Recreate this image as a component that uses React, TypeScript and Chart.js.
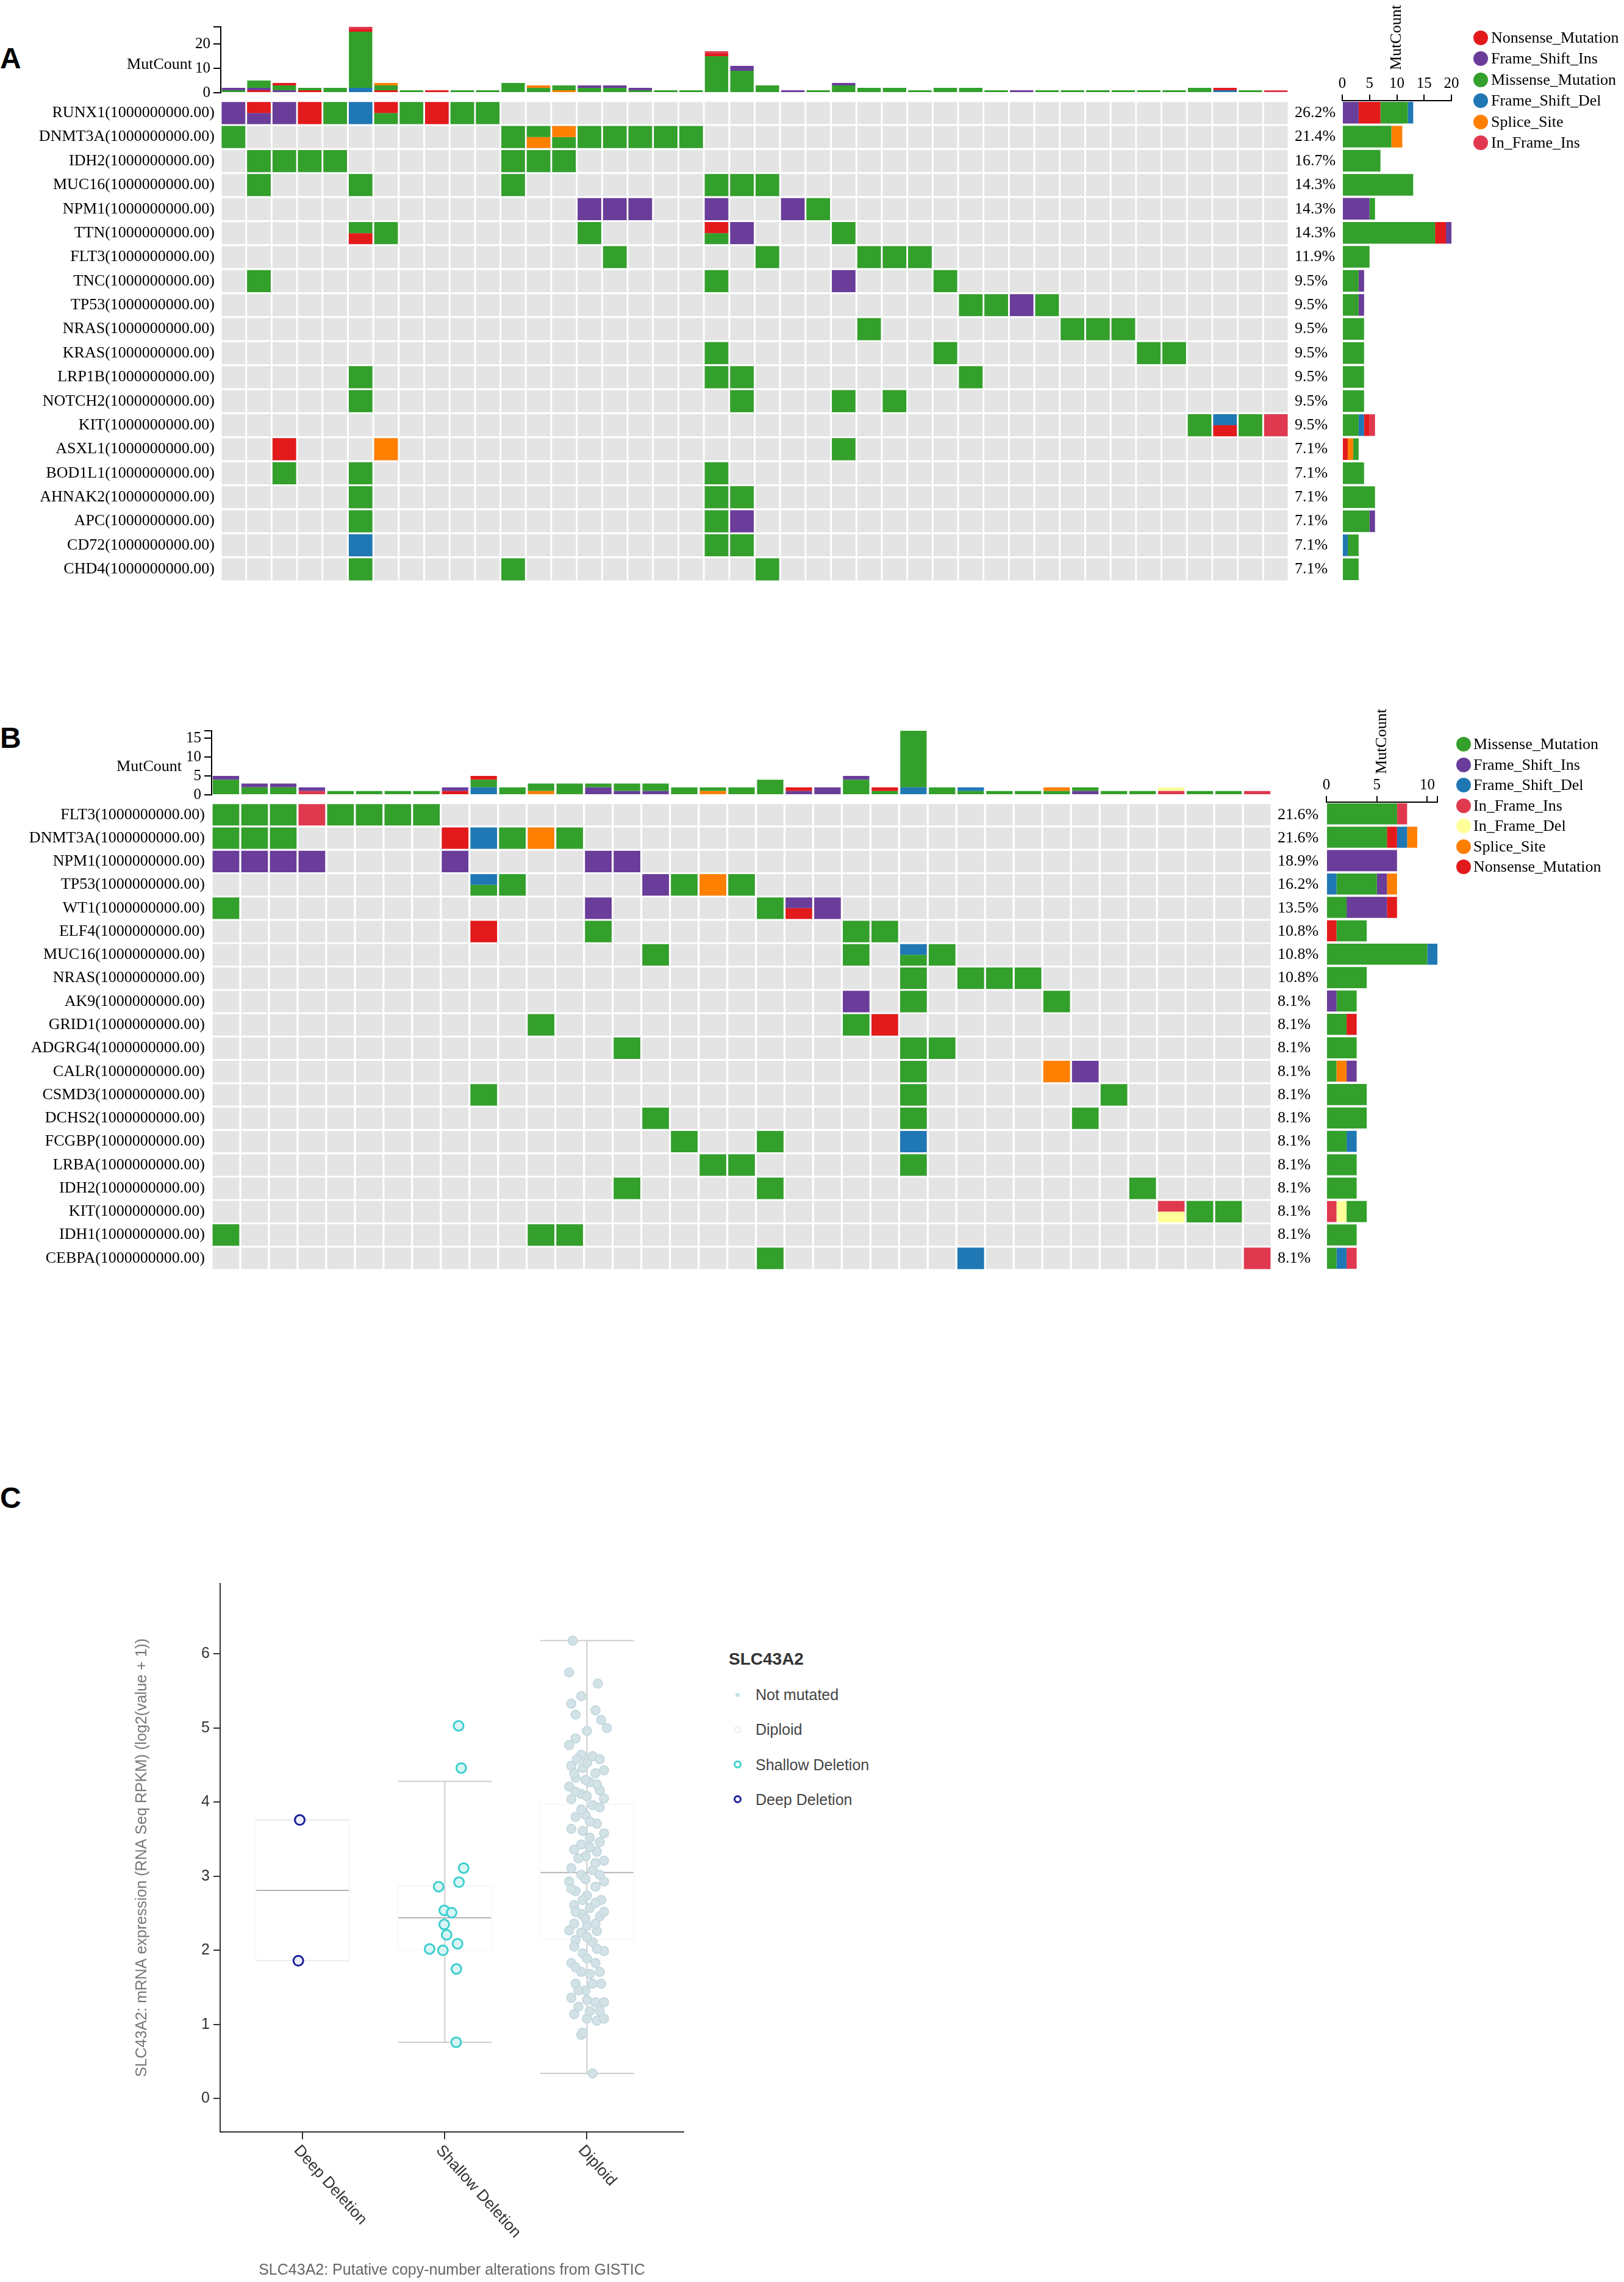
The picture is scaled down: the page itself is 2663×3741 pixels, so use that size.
import React, { useEffect, useRef } from 'react';
import { Chart, registerables } from 'chart.js';

Chart.register(...registerables);

const SERIF = '"Liberation Serif", "Times New Roman", serif';
const SANS = '"Liberation Sans", Arial, Helvetica, sans-serif';

// ---------- mutation classes ----------
const MUT_CODES = ['M', 'P', 'D', 'N', 'S', 'I', 'L'];
const MUT_NAMES = ['Missense_Mutation', 'Frame_Shift_Ins', 'Frame_Shift_Del', 'Nonsense_Mutation', 'Splice_Site', 'In_Frame_Ins', 'In_Frame_Del'];
const MUT_COLORS = ['#33a02c', '#6a3d9a', '#1f78b4', '#e31a1c', '#ff7f00', '#e0394f', '#ffff99'];
const GREY = '#e4e4e4';
const GENE_SUFFIX = '(1000000000.00)';

// ---------- panel A ----------
const A_SAMPLES = Array.from({ length: 42 }, (_, i) => 'A' + (i + 1));
const A_GENES = ['RUNX1', 'DNMT3A', 'IDH2', 'MUC16', 'NPM1', 'TTN', 'FLT3', 'TNC', 'TP53', 'NRAS', 'KRAS', 'LRP1B', 'NOTCH2', 'KIT', 'ASXL1', 'BOD1L1', 'AHNAK2', 'APC', 'CD72', 'CHD4'];
const A_FREQ = ['26.2%', '21.4%', '16.7%', '14.3%', '14.3%', '14.3%', '11.9%', '9.5%', '9.5%', '9.5%', '9.5%', '9.5%', '9.5%', '9.5%', '7.1%', '7.1%', '7.1%', '7.1%', '7.1%', '7.1%'];
// "col + code(s)": one code = whole cell, two codes = top half / bottom half
const A_CELLS = [
  '0P 1NP 2P 3N 4M 5D 6NM 7M 8N 9M 10M',
  '0M 11M 12MS 13SM 14M 15M 16M 17M 18M',
  '1M 2M 3M 4M 11M 12M 13M',
  '1M 5M 11M 19M 20M 21M',
  '14P 15P 16P 19P 22P 23M',
  '5MN 6M 14M 19NM 20P 24M',
  '15M 21M 25M 26M 27M',
  '1M 19M 24P 28M',
  '29M 30M 31P 32M',
  '25M 33M 34M 35M',
  '19M 28M 36M 37M',
  '5M 19M 20M 29M',
  '5M 20M 24M 26M',
  '38M 39DN 40M 41I',
  '2N 6S 24M',
  '2M 5M 19M',
  '5M 19M 20M',
  '5M 19M 20P',
  '5D 19M 20M',
  '5M 11M 21M',
];
// per-sample mutation counts (bottom -> top)
const A_SAMPLE_MUTS = [
  'M1 P1', 'N1 P1 M3', 'P1 M2 N1', 'N1 M1', 'M2', 'D2 M23 N1 I1', 'N1 M2 S1', 'M1', 'N1', 'M1',
  'M1', 'M4', 'M2 S1', 'S1 M2', 'M2 P1', 'M2 P1', 'M1 P1', 'M1', 'M1', 'M15 N1 I1',
  'M9 P2', 'M3', 'P1', 'M1', 'M3 P1', 'M2', 'M2', 'M1', 'M2', 'M2',
  'M1', 'P1', 'M1', 'M1', 'M1', 'M1', 'M1', 'M1', 'M2', 'D1 N1',
  'M1', 'I1',
];
// per-gene mutation counts (left -> right)
const A_GENE_MUTS = [
  'P3 N4 M5 D1', 'M9 S2', 'M7', 'M13', 'P5 M1', 'M17 N2 P1', 'M5', 'M3 P1', 'M3 P1', 'M4',
  'M4', 'M4', 'M4', 'M3 D1 N1 I1', 'N1 S1 M1', 'M4', 'M6', 'M5 P1', 'D1 M2', 'M3',
];
const A_TOP_TICKS = [0, 10, 20, 27];
const A_RIGHT_TICKS = [0, 5, 10, 15, 20];
const A_LEGEND = ['N', 'P', 'M', 'D', 'S', 'I'];

// ---------- panel B ----------
const B_SAMPLES = Array.from({ length: 37 }, (_, i) => 'B' + (i + 1));
const B_GENES = ['FLT3', 'DNMT3A', 'NPM1', 'TP53', 'WT1', 'ELF4', 'MUC16', 'NRAS', 'AK9', 'GRID1', 'ADGRG4', 'CALR', 'CSMD3', 'DCHS2', 'FCGBP', 'LRBA', 'IDH2', 'KIT', 'IDH1', 'CEBPA'];
const B_FREQ = ['21.6%', '21.6%', '18.9%', '16.2%', '13.5%', '10.8%', '10.8%', '10.8%', '8.1%', '8.1%', '8.1%', '8.1%', '8.1%', '8.1%', '8.1%', '8.1%', '8.1%', '8.1%', '8.1%', '8.1%'];
const B_CELLS = [
  '0M 1M 2M 3I 4M 5M 6M 7M',
  '0M 1M 2M 8N 9D 10M 11S 12M',
  '0P 1P 2P 3P 8P 13P 14P',
  '9DM 10M 15P 16M 17S 18M',
  '0M 13P 19M 20PN 21P',
  '9N 13M 22M 23M',
  '15M 22M 24DM 25M',
  '24M 26M 27M 28M',
  '22P 24M 29M',
  '11M 22M 23N',
  '14M 24M 25M',
  '24M 29S 30P',
  '9M 24M 31M',
  '15M 24M 30M',
  '16M 19M 24D',
  '17M 18M 24M',
  '14M 19M 32M',
  '33IL 34M 35M',
  '0M 11M 12M',
  '19M 26D 36I',
];
const B_SAMPLE_MUTS = [
  'M4 P1', 'M2 P1', 'M2 P1', 'I1 P1', 'M1', 'M1', 'M1', 'M1', 'N1 P1', 'D2 M2 N1',
  'M2', 'S1 M2', 'M3', 'P2 M1', 'P1 M2', 'P1 M2', 'M2', 'S1 M1', 'M2', 'M4',
  'P1 N1', 'P2', 'M4 P1', 'M1 N1', 'D2 M15', 'M2', 'M1 D1', 'M1', 'M1', 'M1 S1',
  'P1 M1', 'M1', 'M1', 'I1 L1', 'M1', 'M1', 'I1',
];
const B_GENE_MUTS = [
  'M7 I1', 'M6 N1 D1 S1', 'P7', 'D1 M4 P1 S1', 'M2 P4 N1', 'N1 M3', 'M10 D1', 'M4', 'P1 M2', 'M2 N1',
  'M3', 'M1 S1 P1', 'M4', 'M4', 'M2 D1', 'M3', 'M3', 'I1 L1 M2', 'M3', 'M1 D1 I1',
];
const B_TOP_TICKS = [0, 5, 10, 15, 17];
const B_RIGHT_TICKS = [0, 5, 10, 11];
const B_LEGEND = ['M', 'P', 'D', 'I', 'L', 'S', 'N'];

// ---------- panel C ----------
const C_GROUPS = ['Deep Deletion', 'Shallow Deletion', 'Diploid'];
const C_DEEP = [[-0.02, 3.76], [-0.03, 1.86]];
const C_SHALLOW = [
  [1.097, 5.03], [1.116, 4.46], [1.133, 3.11], [1.1, 2.92], [0.957, 2.86], [0.996, 2.54], [1.048, 2.51],
  [0.996, 2.35], [1.013, 2.21], [1.09, 2.09], [0.893, 2.02], [0.987, 2.0], [1.082, 1.75], [1.08, 0.76],
];
const C_DIPLOID = [
  [1.9, 6.18], [1.874, 5.75], [2.077, 5.6], [1.96, 5.43], [1.89, 5.33], [1.92, 5.18], [2.06, 5.24], [2.1, 5.11],
  [2.14, 5.0], [2.0, 4.96], [1.92, 4.86], [1.875, 4.77], [1.96, 4.64], [2.04, 4.62], [1.89, 4.49], [1.97, 4.46],
  [2.06, 4.39], [2.12, 4.43], [1.92, 4.33], [1.875, 4.21], [2.02, 4.27], [2.09, 4.16], [1.96, 4.11], [1.89, 4.04],
  [2.12, 4.05], [2.04, 3.96], [1.99, 3.83], [1.92, 3.8], [2.07, 3.71], [2.12, 3.58], [2.02, 3.52], [1.96, 3.43],
  [1.91, 3.36], [2.07, 3.33], [1.99, 3.27], [2.12, 3.21], [1.89, 3.11], [2.04, 3.08], [1.96, 3.02], [1.875, 2.93],
  [2.12, 2.93], [2.06, 2.86], [1.92, 2.8], [2.0, 2.74], [2.1, 2.68], [1.91, 2.61], [2.02, 2.57], [1.96, 2.49],
  [2.09, 2.46], [2.0, 2.33], [1.875, 2.27], [2.07, 2.26], [1.92, 2.14], [2.04, 2.11], [2.12, 1.99], [1.97, 1.96],
  [1.89, 1.83], [2.06, 1.83], [1.96, 1.71], [2.02, 1.68], [1.92, 1.55], [2.1, 1.55], [1.99, 1.46], [1.89, 1.36],
  [2.06, 1.3], [1.94, 1.24], [2.09, 1.18], [2.0, 1.08], [2.07, 1.05], [1.96, 0.86], [2.04, 0.34],
  [1.93, 4.58], [2.0, 4.53], [2.09, 4.58], [1.91, 4.39], [1.99, 4.3], [2.07, 4.24], [1.92, 4.14], [2.0, 4.08],
  [2.09, 3.93], [1.96, 3.9], [2.02, 3.74], [1.89, 3.64], [1.97, 3.61], [2.09, 3.46], [2.02, 3.39], [1.94, 3.24],
  [2.06, 3.18], [1.99, 2.96], [2.09, 3.02], [1.89, 2.83], [1.97, 2.68], [2.06, 2.64], [1.92, 2.52], [2.12, 2.52],
  [1.99, 2.43], [1.91, 2.36], [2.06, 2.36], [1.96, 2.24], [2.0, 2.18], [1.91, 2.05], [2.07, 2.02], [2.0, 1.89],
  [1.92, 1.77], [2.09, 1.71], [2.04, 1.55], [1.94, 1.46], [2.0, 1.33], [2.12, 1.3], [1.91, 1.14], [2.02, 1.18],
  [2.12, 1.08], [1.97, 0.89],
];
// min, q1, median, q3, max
const C_BOX = [
  [1.86, 1.86, 2.81, 3.76, 3.76],
  [0.76, 2.0, 2.44, 2.87, 4.28],
  [0.34, 2.15, 3.05, 3.97, 6.18],
];
const C_Y_TICKS = [0, 1, 2, 3, 4, 5, 6];
const C_YTITLE = 'SLC43A2: mRNA expression (RNA Seq RPKM) (log2(value + 1))';
const C_XTITLE = 'SLC43A2: Putative copy-number alterations from GISTIC';

// ---------- helpers ----------
const colorOf = (c: string) => MUT_COLORS[MUT_CODES.indexOf(c)];
const nameOf = (c: string) => MUT_NAMES[MUT_CODES.indexOf(c)];

type Seg = { t: string; v: number };
const parseSegs = (s: string): Seg[] =>
  s.trim().split(/\s+/).map((tok) => ({ t: tok[0], v: Number(tok.slice(1)) }));

function stackedSets(list: string[], barPct: number) {
  const segs = list.map(parseSegs);
  const n = Math.max(...segs.map((s) => s.length));
  const out: any[] = [];
  for (let k = 0; k < n; k++) {
    out.push({
      label: 'segment ' + (k + 1),
      data: segs.map((s) => (s[k] ? s[k].v : null)),
      backgroundColor: segs.map((s) => (s[k] ? colorOf(s[k].t) : 'rgba(0,0,0,0)')),
      borderWidth: 0,
      barPercentage: barPct,
      categoryPercentage: 1,
    });
  }
  return out;
}

function parseCells(s: string) {
  return s.trim().split(/\s+/).map((tok) => {
    const m = tok.match(/^(\d+)([A-Z]+)$/) as RegExpMatchArray;
    return { col: Number(m[1]), codes: m[2] };
  });
}

function gridSets(genes: string[], cells: string[], n: number) {
  const G = 0.04;
  const common = { grouped: false, borderWidth: 0, barPercentage: 0.93, categoryPercentage: 1 };
  const ds: any[] = [];
  genes.forEach((g, gi) => {
    const full: any[] = new Array(n).fill(null);
    const fullC: string[] = new Array(n).fill(GREY);
    const top: any[] = new Array(n).fill(null);
    const topC: string[] = new Array(n).fill(GREY);
    const bot: any[] = new Array(n).fill(null);
    const botC: string[] = new Array(n).fill(GREY);
    parseCells(cells[gi]).forEach(({ col, codes }) => {
      if (codes.length === 1) {
        full[col] = [gi + G, gi + 1 - G];
        fullC[col] = colorOf(codes);
      } else {
        top[col] = [gi + G, gi + 0.5];
        topC[col] = colorOf(codes[0]);
        bot[col] = [gi + 0.5, gi + 1 - G];
        botC[col] = colorOf(codes[1]);
      }
    });
    ds.push({ label: g + ' background', data: new Array(n).fill(0).map(() => [gi + G, gi + 1 - G]), backgroundColor: GREY, order: 2, ...common });
    ds.push({ label: g, data: full, backgroundColor: fullC, order: 1, ...common });
    ds.push({ label: g + ' upper', data: top, backgroundColor: topC, order: 1, ...common });
    ds.push({ label: g + ' lower', data: bot, backgroundColor: botC, order: 1, ...common });
  });
  return ds;
}

const baseOpts = {
  responsive: false,
  animation: false,
  devicePixelRatio: 1,
  events: [] as any[],
};
const noPlugins = { legend: { display: false }, tooltip: { enabled: false } };
const labelIf5 = (v: number) => (v % 5 === 0 ? String(v) : '');

function topBarsConfig(samples: string[], list: string[], tickVals: number[], axisWidth: number, padTop: number, labelValue: number, labelGap: number) {
  const yMax = tickVals[tickVals.length - 1];
  return {
    type: 'bar',
    data: { labels: samples, datasets: stackedSets(list, 0.92) },
    options: {
      ...baseOpts,
      layout: { padding: { top: padTop, bottom: 24, left: 0, right: 0 } },
      plugins: noPlugins,
      scales: {
        x: { stacked: true, display: false },
        y: {
          stacked: true,
          min: 0,
          max: yMax,
          afterBuildTicks: (s: any) => { s.ticks = tickVals.map((v) => ({ value: v })); },
          afterFit: (s: any) => { s.width = axisWidth; },
          ticks: { autoSkip: false, padding: 5, color: '#000', font: { family: SERIF, size: 25 }, callback: labelIf5 },
          grid: { drawOnChartArea: false, drawTicks: true, tickLength: 12, color: '#000', lineWidth: 2 },
          border: { display: true, color: '#000', width: 2 },
        },
      },
    },
    plugins: [
      {
        id: 'mutCountLeft',
        afterDraw(chart: any) {
          const ctx = chart.ctx;
          ctx.save();
          ctx.font = `26px ${SERIF}`;
          ctx.fillStyle = '#000';
          ctx.textAlign = 'right';
          ctx.textBaseline = 'middle';
          ctx.fillText('MutCount', chart.chartArea.left - labelGap, chart.scales.y.getPixelForValue(labelValue));
          ctx.restore();
        },
      },
    ],
  };
}

function rightBarsConfig(genes: string[], list: string[], tickVals: number[], padL: number, padR: number, padB: number, axisH: number, titleOffset: number) {
  const xMax = tickVals[tickVals.length - 1];
  return {
    type: 'bar',
    data: { labels: genes, datasets: stackedSets(list, 0.9) },
    options: {
      ...baseOpts,
      indexAxis: 'y',
      layout: { padding: { top: 0, bottom: padB, left: padL, right: padR } },
      plugins: noPlugins,
      scales: {
        x: {
          position: 'top',
          stacked: true,
          min: 0,
          max: xMax,
          afterBuildTicks: (s: any) => { s.ticks = tickVals.map((v) => ({ value: v })); },
          afterFit: (s: any) => { s.height = axisH; },
          ticks: { autoSkip: false, maxRotation: 0, padding: 3, color: '#000', font: { family: SERIF, size: 25 }, callback: labelIf5 },
          grid: { drawOnChartArea: false, drawTicks: true, tickLength: 10, color: '#000', lineWidth: 2 },
          border: { display: true, color: '#000', width: 2 },
        },
        y: { stacked: true, display: false },
      },
    },
    plugins: [
      {
        id: 'mutCountTop',
        afterDraw(chart: any) {
          const { ctx, chartArea } = chart;
          ctx.save();
          ctx.translate((chartArea.left + chartArea.right) / 2, chartArea.top - titleOffset);
          ctx.rotate(-Math.PI / 2);
          ctx.font = `26px ${SERIF}`;
          ctx.fillStyle = '#000';
          ctx.textAlign = 'left';
          ctx.textBaseline = 'middle';
          ctx.fillText('MutCount', 0, 0);
          ctx.restore();
        },
      },
    ],
  };
}

function gridConfig(samples: string[], genes: string[], cells: string[], freq: string[], leftW: number, rightW: number, padTop: number, padBottom: number, labelPad: number) {
  const rowTicks = (s: any) => { s.ticks = genes.map((_, i) => ({ value: i + 0.5 })); };
  const tickFont = { family: SERIF, size: 26 };
  return {
    type: 'bar',
    data: { labels: samples, datasets: gridSets(genes, cells, samples.length) },
    options: {
      ...baseOpts,
      layout: { padding: { top: padTop, bottom: padBottom, left: 0, right: 0 } },
      plugins: noPlugins,
      scales: {
        x: { display: false },
        y: {
          position: 'left',
          min: 0,
          max: genes.length,
          reverse: true,
          afterBuildTicks: rowTicks,
          afterFit: (s: any) => { s.width = leftW; },
          ticks: { autoSkip: false, padding: labelPad, color: '#000', font: tickFont, callback: (_v: any, i: number) => genes[i] + GENE_SUFFIX },
          grid: { display: false, drawTicks: false },
          border: { display: false },
        },
        y2: {
          position: 'right',
          min: 0,
          max: genes.length,
          reverse: true,
          afterBuildTicks: rowTicks,
          afterFit: (s: any) => { s.width = rightW; },
          ticks: { autoSkip: false, padding: 10, color: '#000', font: tickFont, callback: (_v: any, i: number) => freq[i] },
          grid: { display: false, drawTicks: false },
          border: { display: false },
        },
      },
    },
  };
}

function panelCConfig() {
  const lineSet = (pts: number[][], color: string, width: number) => ({
    label: 'line',
    data: pts.map(([x, y]) => ({ x, y })),
    showLine: true,
    borderColor: color,
    borderWidth: width,
    pointRadius: 0,
    fill: false,
    order: 10,
  });
  const sets: any[] = [];
  const w = 0.33;
  C_BOX.forEach(([mn, q1, md, q3, mx], i) => {
    sets.push(lineSet([[i - w, q1], [i + w, q1], [i + w, q3], [i - w, q3], [i - w, q1]], '#f6f6f6', 1.5));
    if (q1 > mn || q3 < mx) sets.push(lineSet([[i, mn], [i, mx]], '#cdcdcd', 2));
    sets.push(lineSet([[i - w, mx], [i + w, mx]], '#cdcdcd', 2));
    sets.push(lineSet([[i - w, mn], [i + w, mn]], '#cdcdcd', 2));
    sets.push(lineSet([[i - w, md], [i + w, md]], '#b3b3b3', 2));
  });
  sets.push({
    label: 'Diploid',
    data: C_DIPLOID.map(([x, y]) => ({ x, y })),
    pointRadius: 7.5,
    pointBackgroundColor: '#d2e2e7',
    pointBorderColor: '#bfd5db',
    pointBorderWidth: 1.5,
    order: 3,
  });
  sets.push({
    label: 'Shallow Deletion',
    data: C_SHALLOW.map(([x, y]) => ({ x, y })),
    pointRadius: 8,
    pointBackgroundColor: 'rgba(214,244,244,0.9)',
    pointBorderColor: '#3fcfd0',
    pointBorderWidth: 3,
    order: 2,
  });
  sets.push({
    label: 'Deep Deletion',
    data: C_DEEP.map(([x, y]) => ({ x, y })),
    pointRadius: 8,
    pointBackgroundColor: '#eef0fa',
    pointBorderColor: '#1d1d9e',
    pointBorderWidth: 3,
    order: 1,
  });
  return {
    type: 'scatter',
    data: { datasets: sets },
    options: {
      ...baseOpts,
      layout: { padding: { top: 36, right: 59, bottom: 0, left: 0 } },
      plugins: noPlugins,
      scales: {
        x: {
          type: 'linear',
          min: -0.58,
          max: 2.68,
          afterBuildTicks: (s: any) => { s.ticks = C_GROUPS.map((_, i) => ({ value: i })); },
          afterFit: (s: any) => { s.height = 246; },
          ticks: { display: false },
          grid: { drawOnChartArea: false, drawTicks: true, tickLength: 12, color: '#333', lineWidth: 2 },
          border: { display: true, color: '#333', width: 2 },
          title: { display: true, text: C_XTITLE, color: '#666', font: { family: SANS, size: 25 }, padding: { top: 0, bottom: 4 } },
        },
        y: {
          type: 'linear',
          min: -0.45,
          max: 6.95,
          afterBuildTicks: (s: any) => { s.ticks = C_Y_TICKS.map((v) => ({ value: v })); },
          afterFit: (s: any) => { s.width = 181; },
          ticks: { autoSkip: false, padding: 6, color: '#333', font: { family: SANS, size: 25 } },
          grid: { drawOnChartArea: false, drawTicks: true, tickLength: 11, color: '#333', lineWidth: 2 },
          border: { display: true, color: '#333', width: 2 },
          title: { display: true, text: C_YTITLE, color: '#777', font: { family: SANS, size: 25 }, padding: { top: 38, bottom: 0 } },
        },
      },
    },
    plugins: [
      {
        id: 'rotatedGroupLabels',
        afterDraw(chart: any) {
          const { ctx } = chart;
          const xs = chart.scales.x;
          ctx.save();
          ctx.font = `26px ${SANS}`;
          ctx.fillStyle = '#333';
          ctx.textAlign = 'left';
          ctx.textBaseline = 'middle';
          C_GROUPS.forEach((g, i) => {
            ctx.save();
            ctx.translate(xs.getPixelForValue(i) - 10, xs.top + 26);
            ctx.rotate((48 * Math.PI) / 180);
            ctx.fillText(g, 0, 0);
            ctx.restore();
          });
          ctx.restore();
        },
      },
    ],
  };
}

// ---------- components ----------
function ChartCanvas(props: { left: number; top: number; width: number; height: number; build: () => any }) {
  const ref = useRef<HTMLCanvasElement | null>(null);
  useEffect(() => {
    if (!ref.current) return;
    const chart = new Chart(ref.current, props.build());
    return () => chart.destroy();
  }, []);
  const { left, top, width, height } = props;
  return <canvas ref={ref} width={width} height={height} style={{ position: 'absolute', left, top, width, height }} />;
}

function MutLegend(props: { codes: string[]; cx: number; textX: number; y0: number; step: number }) {
  const { codes, cx, textX, y0, step } = props;
  const r = 12;
  return (
    <>
      {codes.map((c, i) => {
        const y = y0 + i * step;
        return (
          <React.Fragment key={c}>
            <div style={{ position: 'absolute', left: cx - r, top: y - r, width: 2 * r, height: 2 * r, borderRadius: '50%', background: colorOf(c) }} />
            <div style={{ position: 'absolute', left: textX, top: y - 18, height: 36, lineHeight: '36px', fontFamily: SERIF, fontSize: 26, color: '#000', whiteSpace: 'nowrap' }}>
              {nameOf(c)}
            </div>
          </React.Fragment>
        );
      })}
    </>
  );
}

function PanelLetter(props: { text: string; top: number }) {
  return (
    <div style={{ position: 'absolute', left: 0, top: props.top, fontFamily: SANS, fontWeight: 700, fontSize: 48, lineHeight: '48px', color: '#000' }}>
      {props.text}
    </div>
  );
}

const C_LEGEND_ITEMS = [
  { label: 'Not mutated', r: 3.5, fill: '#c3e6e6', stroke: 'transparent', bw: 0 },
  { label: 'Diploid', r: 5.5, fill: 'transparent', stroke: '#d6d6d6', bw: 1.5 },
  { label: 'Shallow Deletion', r: 6.5, fill: 'transparent', stroke: '#3fcfd0', bw: 3 },
  { label: 'Deep Deletion', r: 6.5, fill: 'transparent', stroke: '#1d1d9e', bw: 3 },
];

function CLegend() {
  const cx = 1209;
  return (
    <>
      <div style={{ position: 'absolute', left: 1195, top: 2702, height: 36, lineHeight: '36px', fontFamily: SANS, fontWeight: 700, fontSize: 28, color: '#333', whiteSpace: 'nowrap' }}>
        SLC43A2
      </div>
      {C_LEGEND_ITEMS.map((it, i) => {
        const y = 2778 + i * 57.3;
        return (
          <React.Fragment key={it.label}>
            <div
              style={{
                position: 'absolute',
                left: cx - it.r,
                top: y - it.r,
                width: 2 * it.r,
                height: 2 * it.r,
                boxSizing: 'border-box',
                borderRadius: '50%',
                background: it.fill,
                border: `${it.bw}px solid ${it.stroke}`,
              }}
            />
            <div style={{ position: 'absolute', left: 1239, top: y - 18, height: 36, lineHeight: '36px', fontFamily: SANS, fontSize: 25, color: '#444', whiteSpace: 'nowrap' }}>
              {it.label}
            </div>
          </React.Fragment>
        );
      })}
    </>
  );
}

export default function App() {
  return (
    <div style={{ position: 'absolute', left: 0, top: 0, width: 2663, height: 3741, background: '#fff', overflow: 'hidden' }}>
      {/* Panel A */}
      <PanelLetter text="A" top={72} />
      <ChartCanvas left={150} top={20} width={1963} height={156} build={() => topBarsConfig(A_SAMPLES, A_SAMPLE_MUTS, A_TOP_TICKS, 212, 24, 11.5, 47)} />
      <ChartCanvas left={0} top={140} width={2200} height={840} build={() => gridConfig(A_SAMPLES, A_GENES, A_CELLS, A_FREQ, 362, 87, 25, 27, 10)} />
      <ChartCanvas left={2160} top={0} width={260} height={980} build={() => rightBarsConfig(A_GENES, A_GENE_MUTS, A_RIGHT_TICKS, 41, 40, 27, 165, 50)} />
      <MutLegend codes={A_LEGEND} cx={2428} textX={2445} y0={62} step={34.4} />

      {/* Panel B */}
      <PanelLetter text="B" top={1186} />
      <ChartCanvas left={150} top={1170} width={1935} height={157} build={() => topBarsConfig(B_SAMPLES, B_SAMPLE_MUTS, B_TOP_TICKS, 197, 28, 7.4, 49)} />
      <ChartCanvas left={0} top={1290} width={2170} height={819} build={() => gridConfig(B_SAMPLES, B_GENES, B_CELLS, B_FREQ, 347, 85, 25, 27, 11)} />
      <ChartCanvas left={2130} top={1150} width={270} height={959} build={() => rightBarsConfig(B_GENES, B_GENE_MUTS, B_RIGHT_TICKS, 45, 43, 27, 165, 46)} />
      <MutLegend codes={B_LEGEND} cx={2400} textX={2416} y0={1220} step={33.5} />

      {/* Panel C */}
      <PanelLetter text="C" top={2432} />
      <ChartCanvas left={180} top={2560} width={1000} height={1181} build={panelCConfig} />
      <CLegend />
    </div>
  );
}
